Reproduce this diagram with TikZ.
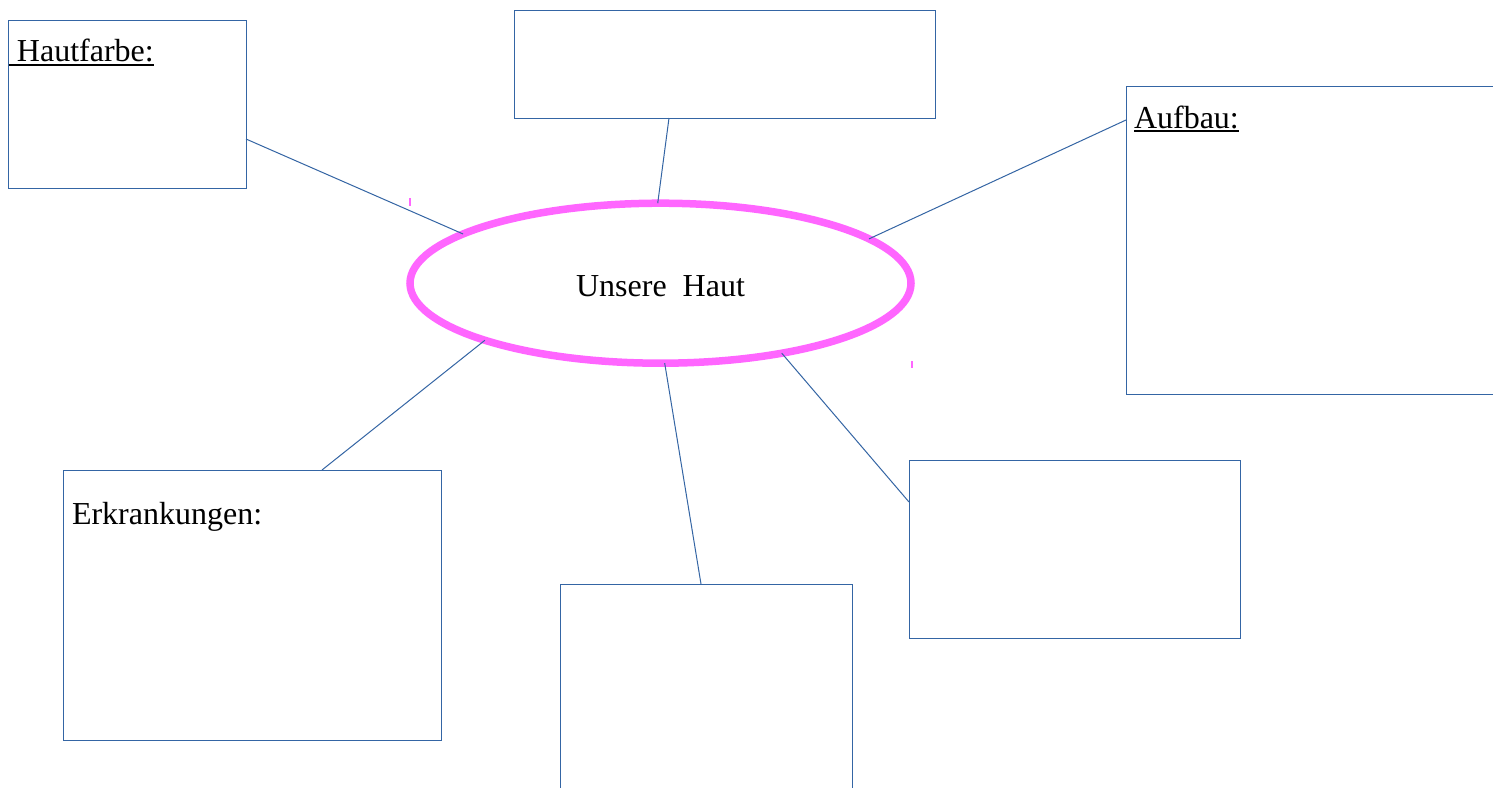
\documentclass[tikz,border=0pt]{standalone}
\usepackage{fontspec}
\setmainfont{Liberation Serif}
\usetikzlibrary{shapes.geometric,calc}
\definecolor{boxblue}{RGB}{52,101,164}
\definecolor{pinkline}{RGB}{255,102,255}
\newsavebox\ulbox
\newcommand\myul[1]{\sbox\ulbox{#1}\rlap{\vrule height -2pt depth 4pt width \wd\ulbox}\usebox\ulbox}
\begin{document}
\begin{tikzpicture}[x=1pt,y=-1pt,
  box/.style={draw=boxblue, line width=1pt, anchor=north west, inner sep=0pt, outer sep=0pt},
  conn/.style={draw=boxblue, line width=1pt},
  lbl/.style={anchor=base west, inner sep=0pt, outer sep=0pt, font=\fontsize{32}{38}\selectfont},
  tick/.style={draw=pinkline, line width=1.5pt}]
\fill[white] (0,0) rectangle (1493,787);
\useasboundingbox (0,0) rectangle (1493,787);
\clip (0,0) rectangle (1493,787);
% boxes
\node[box, minimum width=238pt, minimum height=168pt] (hf) at (8,20) {};
\node[box, minimum width=421pt, minimum height=108pt] (tb) at (514,10) {};
\node[box, minimum width=380pt, minimum height=308pt] (ab) at (1126,86) {};
\node[box, minimum width=378pt, minimum height=270pt] (ek) at (63,470) {};
\node[box, minimum width=292pt, minimum height=220pt] (bb) at (560,584) {};
\node[box, minimum width=331pt, minimum height=178pt] (rb) at (909,460) {};
% labels
\node[lbl] (hft) at (9,61.5) {\myul{\ Hautfarbe:}};
\node[lbl] (abt) at (1134,128) {\myul{Aufbau:}};
\node[lbl] (ekt) at (72,524.5) {Erkrankungen:};
% centre ellipse
\node[ellipse, draw=pinkline, line width=7.5pt, minimum width=501pt, minimum height=160pt,
      inner sep=0pt, outer sep=0pt, text height=27pt, text depth=0pt,
      font=\fontsize{32}{38}\selectfont] (core) at (660.5,283.2) {Unsere\ \ Haut};
% connectors
\draw[conn] ($(hf.north east)+(0,119)$) -- (core.166.4);
\draw[conn] ($(tb.south west)+(155,0)$) -- (core.92.9);
\draw[conn] ($(ab.north west)+(0,34)$) -- (core.12.5);
\draw[conn] ($(ek.north west)+(259,0)$) -- (core.198.7);
\draw[conn] ($(bb.north west)+(141,0)$) -- (core.273.5);
\draw[conn] ($(rb.north west)+(0,42)$) -- (core.330.2);
% small marks
\draw[tick] (410,198) -- (410,206);
\draw[tick] (912,361) -- (912,368);
\end{tikzpicture}
\end{document}
